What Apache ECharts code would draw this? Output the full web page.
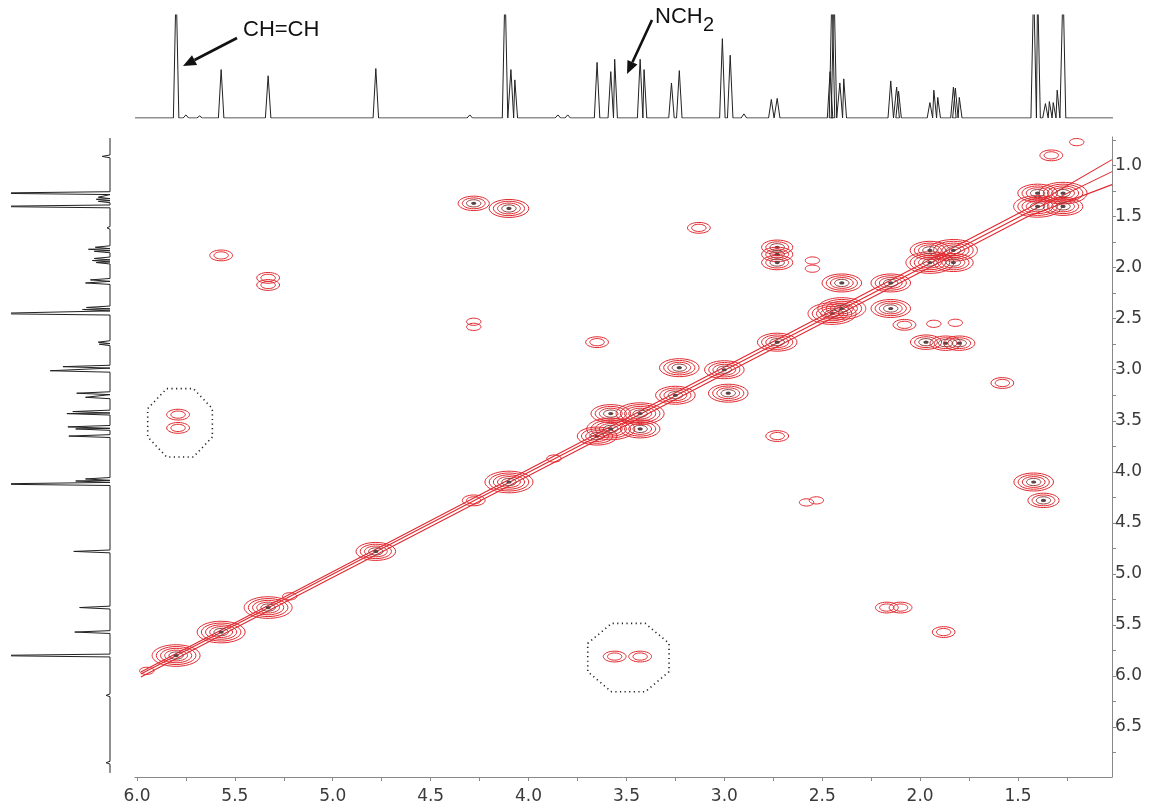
<!DOCTYPE html>
<html>
<head>
<meta charset="utf-8">
<script src="https://cdn.jsdelivr.net/npm/echarts@6/dist/echarts.min.js"></script>
<style>
  html, body { margin: 0; padding: 0; background: #fff; }
  #chart { width: 1155px; height: 809px; }
</style>
</head>
<body>
<div id="chart"></div>
<script>
// tick marks / labels (ppm)
const xLabels = [6.0, 5.5, 5.0, 4.5, 4.0, 3.5, 3.0, 2.5, 2.0, 1.5];
const xTicks = [6.0, 5.75, 5.5, 5.25, 5.0, 4.75, 4.5, 4.25, 4.0, 3.75, 3.5, 3.25, 3.0, 2.75, 2.5, 2.25, 2.0, 1.75, 1.5, 1.25];
const yLabels = [1.0, 1.5, 2.0, 2.5, 3.0, 3.5, 4.0, 4.5, 5.0, 5.5, 6.0, 6.5];
const yTicks = [0.75, 1.0, 1.25, 1.5, 1.75, 2.0, 2.25, 2.5, 2.75, 3.0, 3.25, 3.5, 3.75, 4.0, 4.25, 4.5, 4.75, 5.0, 5.25, 5.5, 5.75, 6.0, 6.25, 6.5, 6.75];

// 1D proton spectrum along the top: [ppm, height %], >100 is off scale
const topPeaks = [
  [5.80, 130], [5.75, 3], [5.68, 2], [5.57, 47], [5.33, 41], [4.78, 48], [4.30, 3],
  [4.12, 130], [4.09, 47], [4.07, 37], [3.85, 3], [3.80, 3], [3.65, 54], [3.58, 45],
  [3.56, 57], [3.43, 57], [3.41, 47], [3.27, 34], [3.23, 46], [3.01, 77], [2.97, 61],
  [2.90, 4], [2.76, 18], [2.73, 19], [2.46, 45], [2.45, 130], [2.44, 130], [2.41, 34],
  [2.39, 38], [2.15, 36], [2.12, 30], [2.11, 26], [1.95, 15], [1.93, 27], [1.91, 20],
  [1.83, 30], [1.82, 29], [1.80, 20], [1.42, 130], [1.40, 130], [1.36, 14], [1.34, 16],
  [1.32, 15], [1.30, 27], [1.27, 130]
];
const topRange = [6.01, 1.01];

// same spectrum along the left side: [ppm, height %]
const leftPeaks = [
  [0.91, 8], [1.27, 130], [1.31, 12], [1.33, 14], [1.35, 12], [1.40, 130], [1.61, 3],
  [1.80, 15], [1.82, 22], [1.84, 16], [1.91, 16], [1.93, 18], [1.95, 14], [2.12, 20],
  [2.15, 25], [2.39, 24], [2.41, 28], [2.45, 130], [2.73, 12], [2.75, 11], [2.97, 48],
  [3.01, 61], [3.23, 34], [3.27, 25], [3.41, 38], [3.43, 44], [3.56, 43], [3.58, 35],
  [3.65, 42], [4.07, 25], [4.09, 35], [4.12, 130], [4.78, 37], [5.33, 31], [5.57, 36],
  [5.80, 130], [6.19, 4], [6.85, 4]
];
const leftRange = [0.73, 6.95];

// diagonal peaks: [ppm, contour levels]
const diagPeaks = [
  [5.95, 1], [5.80, 5], [5.57, 5], [5.33, 5], [5.22, 1], [4.78, 4], [4.28, 2], [4.10, 5],
  [3.87, 1], [3.65, 4], [3.58, 5], [3.43, 5], [3.25, 4], [3.00, 4], [2.73, 4], [2.45, 5],
  [2.40, 5], [2.15, 4], [1.95, 5], [1.83, 5], [1.40, 5], [1.27, 5]
];

// cross peaks: [F2 ppm, F1 ppm, contour levels]
const crossPeaks = [
  [4.28, 1.37, 3], [4.10, 1.42, 4], [3.13, 1.61, 2], [5.57, 1.88, 2], [5.33, 2.10, 2],
  [5.33, 2.17, 2], [4.28, 2.53, 1], [4.28, 2.58, 1], [3.65, 2.73, 2], [2.73, 1.80, 3],
  [2.73, 1.87, 3], [2.73, 1.95, 3], [2.55, 1.93, 1], [2.55, 2.01, 1], [2.40, 2.15, 4],
  [3.23, 2.98, 4], [3.58, 3.43, 4], [5.79, 3.44, 2], [5.79, 3.57, 2], [1.95, 1.83, 4],
  [1.33, 0.90, 2], [1.20, 0.77, 1], [1.40, 1.27, 4],
  [1.37, 4.28, 3], [1.42, 4.10, 4], [1.58, 3.13, 2], [1.88, 5.57, 2], [2.10, 5.33, 2],
  [2.17, 5.33, 2], [2.53, 4.28, 1], [2.58, 4.30, 1], [2.73, 3.65, 2], [1.97, 2.73, 3],
  [1.87, 2.74, 3], [1.80, 2.74, 3], [1.93, 2.55, 1], [2.08, 2.56, 2], [1.82, 2.54, 1],
  [2.15, 2.40, 4], [2.98, 3.23, 4], [3.43, 3.58, 4], [3.56, 5.81, 2], [3.43, 5.81, 2],
  [1.83, 1.95, 4], [1.27, 1.40, 4]
];

// diagonal ridge ends and the two dotted highlight regions (centres, ppm)
const diagRidge = [[5.98, 5.98, 1.02, 1.02]];
const highlights = [[5.78, 3.52], [3.49, 5.82]];

const RED = '#e0282e';
const HW = 0.014;

function buildTrace(peaks, range, flip) {
  const pts = [];
  const sorted = peaks.slice().sort((a, b) => flip ? a[0] - b[0] : b[0] - a[0]);
  const s = flip ? -1 : 1;
  const pt = (p, h) => flip ? [h, p] : [p, h];
  pts.push(pt(range[0], 0));
  sorted.forEach(([p, h]) => {
    pts.push(pt(p + s * HW, 0));
    pts.push(pt(p, h));
    pts.push(pt(p - s * HW, 0));
  });
  pts.push(pt(range[1], 0));
  return pts;
}

function peakItem(params, api) {
  const c = api.coord([api.value(0), api.value(1)]);
  const lv = api.value(2);
  const children = [];
  for (let k = lv; k >= 1; k--) {
    children.push({
      type: 'ellipse',
      shape: { cx: c[0], cy: c[1], rx: 3 + k * 4.2, ry: 1.8 + k * 1.8 },
      style: { fill: 'none', stroke: k === 1 && lv > 2 ? '#8a3a3a' : RED, lineWidth: 1 }
    });
  }
  if (lv >= 3) {
    children.push({
      type: 'ellipse',
      shape: { cx: c[0], cy: c[1], rx: 2.6, ry: 1.6 },
      style: { fill: '#5a4444' }
    });
  }
  return { type: 'group', children };
}

function ridgeItem(params, api) {
  const a = api.coord([api.value(0), api.value(1)]);
  const b = api.coord([api.value(2), api.value(3)]);
  const m = api.coord([1.45, 1.45]);
  const offs = [[-2, -3, -8], [0, 1, 4], [3, 5, 17]];
  const children = offs.map(o => ({
    type: 'polyline',
    shape: { points: [[a[0], a[1] + o[0]], [m[0], m[1] + o[1]], [b[0], b[1] + o[2]]] },
    style: { fill: 'none', stroke: RED, lineWidth: 1.1 }
  }));
  return { type: 'group', children };
}

const hlSize = [[35, 37], [44, 37]];
function hlItem(params, api) {
  const c = api.coord([api.value(0), api.value(1)]);
  const sz = hlSize[params.dataIndex];
  const pts = [];
  for (let i = 0; i < 8; i++) {
    const t = Math.PI / 8 + i * Math.PI / 4;
    pts.push([c[0] + sz[0] * Math.cos(t), c[1] + sz[1] * Math.sin(t)]);
  }
  return {
    type: 'polygon',
    shape: { points: pts },
    style: { fill: 'none', stroke: '#222', lineWidth: 1.6, lineDash: [1.2, 3.4] }
  };
}

function arrow(x1, y1, x2, y2) {
  const ang = Math.atan2(y2 - y1, x2 - x1);
  const L = 13, W = 5.5;
  const bx = x2 - L * Math.cos(ang), by = y2 - L * Math.sin(ang);
  const nx = -Math.sin(ang), ny = Math.cos(ang);
  return [
    { type: 'line', shape: { x1, y1, x2: bx, y2: by }, style: { stroke: '#111', lineWidth: 2.6 } },
    { type: 'polygon', shape: { points: [[x2, y2], [bx + nx * W, by + ny * W], [bx - nx * W, by - ny * W]] },
      style: { fill: '#111' } }
  ];
}

const chart = echarts.init(document.getElementById('chart'));
const labelFont = { fontFamily: 'DejaVu Sans', fontSize: 17, color: '#3a3a3a' };

chart.setOption({
  animation: false,
  grid: [
    { left: 135, right: 43, top: 137, bottom: 32 },
    { left: 135, right: 43, top: 15, height: 103 },
    { left: 12, width: 98, top: 137, bottom: 32 }
  ],
  xAxis: [
    {
      gridIndex: 0, type: 'value', min: 1.02, max: 6.01, inverse: true,
      axisLine: { lineStyle: { color: '#888' } },
      axisTick: { customValues: xTicks, length: 4, lineStyle: { color: '#888' } },
      axisLabel: Object.assign({ customValues: xLabels, margin: 11, formatter: v => v.toFixed(1) }, labelFont),
      splitLine: { show: false }
    },
    { gridIndex: 1, type: 'value', min: 1.02, max: 6.01, inverse: true, show: false },
    { gridIndex: 2, type: 'value', min: 0, max: 100, inverse: true, show: false }
  ],
  yAxis: [
    {
      gridIndex: 0, type: 'value', position: 'right', min: 0.72, max: 6.99, inverse: true,
      axisLine: { show: true, lineStyle: { color: '#888' } },
      axisTick: { show: true, customValues: yTicks, length: 4, lineStyle: { color: '#888' } },
      axisLabel: Object.assign({ customValues: yLabels, margin: 3, formatter: v => v.toFixed(1) }, labelFont),
      splitLine: { show: false }
    },
    { gridIndex: 1, type: 'value', min: 0, max: 100, show: false },
    { gridIndex: 2, type: 'value', min: 0.72, max: 6.99, inverse: true, show: false }
  ],
  series: [
    {
      type: 'line', xAxisIndex: 1, yAxisIndex: 1, data: buildTrace(topPeaks, topRange, false),
      symbol: 'none', clip: true, lineStyle: { color: '#222', width: 1 }
    },
    {
      type: 'line', xAxisIndex: 2, yAxisIndex: 2, data: buildTrace(leftPeaks, leftRange, true),
      symbol: 'none', clip: true, lineStyle: { color: '#222', width: 1 }
    },
    {
      type: 'custom', xAxisIndex: 0, yAxisIndex: 0, renderItem: ridgeItem, data: diagRidge, clip: false
    },
    {
      type: 'custom', xAxisIndex: 0, yAxisIndex: 0, renderItem: peakItem,
      data: diagPeaks.map(d => [d[0], d[0], d[1]]), clip: false
    },
    {
      type: 'custom', xAxisIndex: 0, yAxisIndex: 0, renderItem: peakItem, data: crossPeaks, clip: false
    },
    {
      type: 'custom', xAxisIndex: 0, yAxisIndex: 0, renderItem: hlItem, data: highlights, clip: false
    }
  ],
  graphic: [
    ...arrow(237, 38, 183, 66),
    { type: 'text', left: 243, top: 19, style: { text: 'CH=CH', fontFamily: 'Liberation Sans', fontSize: 22, fill: '#111' } },
    ...arrow(652, 20, 627, 74),
    { type: 'text', left: 655, top: 6, style: { text: 'NCH', fontFamily: 'Liberation Sans', fontSize: 22, fill: '#111' } },
    { type: 'text', left: 703, top: 15, style: { text: '2', fontFamily: 'Liberation Sans', fontSize: 20, fill: '#111' } }
  ]
});
</script>
</body>
</html>
